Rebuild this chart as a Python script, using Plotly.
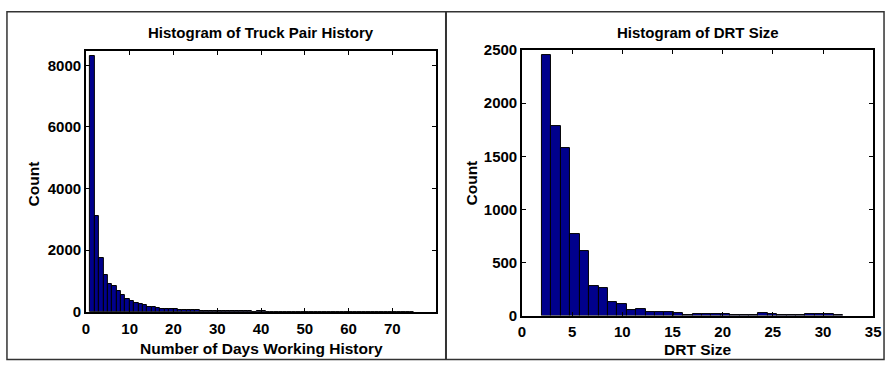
import plotly.graph_objects as go

# Truck pair history: counts per day of working history (1-day bins starting at day 1)
history_start = 1
history_bin_width = 1.0
history_counts = [
    8300, 3120, 1760, 1180, 900, 830, 680, 530, 420, 350,
    290, 250, 205, 170, 145, 120, 95, 80, 75, 75,
    72, 60, 50, 42, 45, 40, 32, 28, 25, 25,
    22, 20, 20, 18, 18, 12, 10, 8, 15, 20,
    6, 5, 5, 4, 4, 4, 3, 3, 3, 3,
    3, 2, 2, 2, 2, 2, 2, 2, 2, 2,
    2, 1, 1, 1, 1, 1, 1, 1, 1, 1,
    1, 1, 2, 2,
]

# DRT size: 32 equal bins spanning sizes 2 to 32
drt_start = 2
drt_end = 32
drt_counts = [
    2455, 1788, 1575, 763, 604, 282, 258, 132, 105, 54,
    63, 36, 36, 30, 28, 3, 15, 15, 15, 12,
    5, 4, 4, 20, 10, 6, 6, 2, 10, 12,
    10, 8,
]

history_ticks_x = [0, 10, 20, 30, 40, 50, 60, 70]
history_ticks_y = [0, 2000, 4000, 6000, 8000]
drt_ticks_x = [0, 5, 10, 15, 20, 25, 30, 35]
drt_ticks_y = [0, 500, 1000, 1500, 2000, 2500]

W, H = 894, 379
BAR_FILL = "#00008c"
FONT = "Liberation Sans, Arial, sans-serif"


def px_x(p):
    return p / W


def px_y(p):
    return (H - p) / H


def bin_centers(start, width, n):
    return [start + width * (i + 0.5) for i in range(n)]


def label(text, x, y, size, angle=0):
    return dict(text=text, x=px_x(x), y=px_y(y), xref="paper", yref="paper",
                showarrow=False, xanchor="center", yanchor="middle", textangle=angle,
                font=dict(family=FONT, size=size, color="black", weight="bold"))


drt_width = (drt_end - drt_start) / len(drt_counts)

fig = go.Figure()
fig.add_trace(go.Bar(
    x=bin_centers(history_start, history_bin_width, len(history_counts)),
    y=history_counts,
    width=history_bin_width,
    marker=dict(color=BAR_FILL, line=dict(color="black", width=1)),
    xaxis="x", yaxis="y", showlegend=False, hoverinfo="x+y",
))
fig.add_trace(go.Bar(
    x=bin_centers(drt_start, drt_width, len(drt_counts)),
    y=drt_counts,
    width=drt_width,
    marker=dict(color=BAR_FILL, line=dict(color="black", width=1)),
    xaxis="x2", yaxis="y2", showlegend=False, hoverinfo="x+y",
))

axis_common = dict(
    showgrid=False, zeroline=False, showline=True, linecolor="black", linewidth=1.5,
    mirror="ticks", ticks="inside", ticklen=4, tickwidth=1, tickcolor="black",
    tickfont=dict(family=FONT, size=15, color="black", weight="bold"),
    fixedrange=True,
)

fig.update_layout(
    width=W, height=H,
    margin=dict(l=0, r=0, t=0, b=0),
    paper_bgcolor="white", plot_bgcolor="white",
    bargap=0,
    xaxis=dict(axis_common, domain=[px_x(83), px_x(438)], range=[0, 80],
               tickvals=history_ticks_x, anchor="y", ticklabelstandoff=2),
    yaxis=dict(axis_common, domain=[px_y(317), px_y(44)], range=[0, 8465],
               tickvals=history_ticks_y, anchor="x"),
    xaxis2=dict(axis_common, domain=[px_x(525), px_x(881)], range=[0, 35],
                tickvals=drt_ticks_x, anchor="y2", ticklabelstandoff=2),
    yaxis2=dict(axis_common, domain=[px_y(321), px_y(43)], range=[0, 2500],
                tickvals=drt_ticks_y, anchor="x2"),
    annotations=[
        label("Histogram of Truck Pair History", 260.5, 25, 15),
        label("Histogram of DRT Size", 703, 25, 15),
        label("Number of Days Working History", 260.5, 355, 15.5),
        label("DRT Size", 703, 356, 15.5),
        label("Count", 30, 183, 15.5, -90),
        label("Count", 474, 182, 15.5, -90),
    ],
    shapes=[
        # outer frame around both panels
        dict(type="rect", xref="paper", yref="paper",
             x0=px_x(3), x1=px_x(892), y0=px_y(367), y1=px_y(3),
             line=dict(color="#333333", width=1.5)),
        # divider between the two panels
        dict(type="line", xref="paper", yref="paper",
             x0=px_x(448), x1=px_x(448), y0=px_y(367), y1=px_y(3),
             line=dict(color="#333333", width=2)),
    ],
)

fig.write_html("out.html")
